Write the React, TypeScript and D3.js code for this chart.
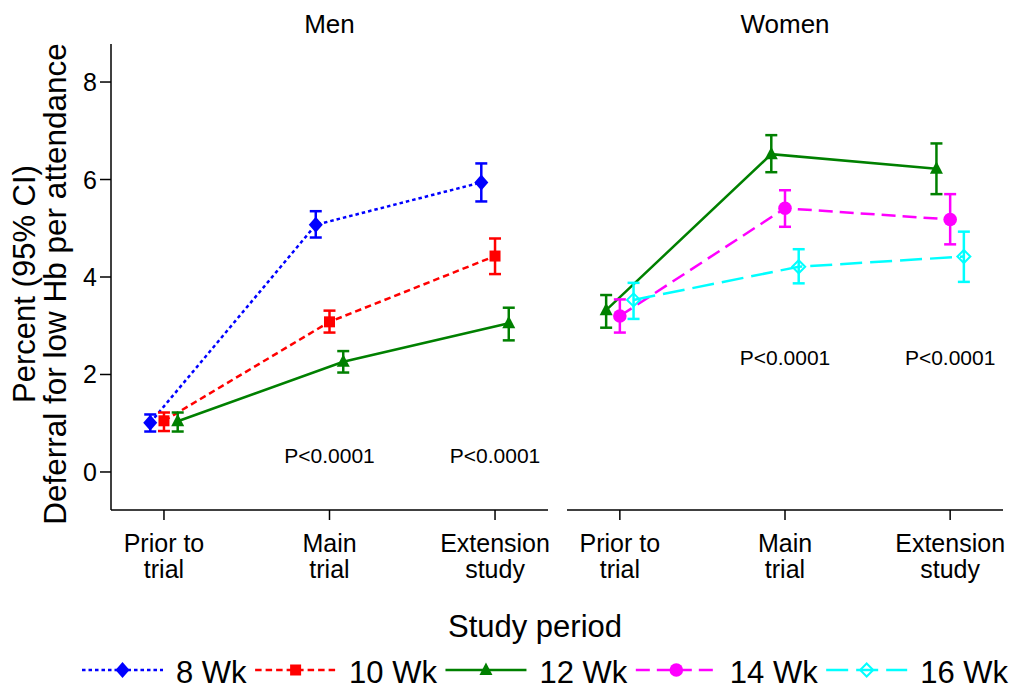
import React from "react";
import * as d3 from "d3";

const W = 1016;
const H = 690;
const FONT = '"Liberation Sans", Arial, Helvetica, sans-serif';

// ---- data ----
const periods = ["Prior to trial", "Main trial", "Extension study"];
const periodLines = [["Prior to", "trial"], ["Main", "trial"], ["Extension", "study"]];
const yTicks = [0, 2, 4, 6, 8];
const panelTitles = ["Men", "Women"];

const men8 = [1.01, 5.07, 5.94];
const men8Lo = [0.83, 4.81, 5.55];
const men8Hi = [1.18, 5.35, 6.33];

const men10 = [1.05, 3.08, 4.43];
const men10Lo = [0.84, 2.86, 4.06];
const men10Hi = [1.22, 3.31, 4.79];

const men12 = [1.04, 2.26, 3.05];
const men12Lo = [0.83, 2.04, 2.7];
const men12Hi = [1.22, 2.48, 3.37];

const women12 = [3.32, 6.52, 6.22];
const women12Lo = [2.96, 6.15, 5.7];
const women12Hi = [3.63, 6.91, 6.74];

const women14 = [3.2, 5.41, 5.18];
const women14Lo = [2.86, 5.03, 4.67];
const women14Hi = [3.54, 5.78, 5.7];

const women16 = [3.53, 4.21, 4.42];
const women16Lo = [3.14, 3.87, 3.9];
const women16Hi = [3.88, 4.57, 4.93];

const pText = "P<0.0001";
const pPeriods = [1, 2];
const pLevelMen = 0.33;
const pLevelWomen = 2.35;

const legendNames = ["8 Wk", "10 Wk", "12 Wk", "14 Wk", "16 Wk"];

// ---- styles ----
type Style = { color: string; dash: string; shape: string };
const styles: Record<string, Style> = {
  "8 Wk": { color: "#0000ff", dash: "3.5,3", shape: "diamond" },
  "10 Wk": { color: "#ff0000", dash: "6.5,4", shape: "square" },
  "12 Wk": { color: "#008000", dash: "", shape: "triangle" },
  "14 Wk": { color: "#ff00ff", dash: "14,7", shape: "circle" },
  "16 Wk": { color: "#00ffff", dash: "22,8", shape: "hdiamond" },
};

type Series = { name: string; v: number[]; lo: number[]; hi: number[]; off: number };
const panels: { title: string; series: Series[]; pLevel: number }[] = [
  {
    title: panelTitles[0],
    pLevel: pLevelMen,
    series: [
      { name: "8 Wk", v: men8, lo: men8Lo, hi: men8Hi, off: -0.083 },
      { name: "10 Wk", v: men10, lo: men10Lo, hi: men10Hi, off: 0 },
      { name: "12 Wk", v: men12, lo: men12Lo, hi: men12Hi, off: 0.083 },
    ],
  },
  {
    title: panelTitles[1],
    pLevel: pLevelWomen,
    series: [
      { name: "12 Wk", v: women12, lo: women12Lo, hi: women12Hi, off: -0.083 },
      { name: "14 Wk", v: women14, lo: women14Lo, hi: women14Hi, off: 0 },
      { name: "16 Wk", v: women16, lo: women16Lo, hi: women16Hi, off: 0.083 },
    ],
  },
];

function Marker({ shape, x, y, color, k = 1 }: { shape: string; x: number; y: number; color: string; k?: number }) {
  if (shape === "diamond") {
    const a = 7 * k, b = 8 * k;
    return <polygon points={`${x},${y - b} ${x + a},${y} ${x},${y + b} ${x - a},${y}`} fill={color} />;
  }
  if (shape === "square") {
    const s = 5.5 * k;
    return <rect x={x - s} y={y - s} width={2 * s} height={2 * s} fill={color} />;
  }
  if (shape === "triangle") {
    return (
      <polygon
        points={`${x},${y - 7.5 * k} ${x + 6.5 * k},${y + 5 * k} ${x - 6.5 * k},${y + 5 * k}`}
        fill={color}
      />
    );
  }
  if (shape === "circle") {
    return <circle cx={x} cy={y} r={6.8 * k} fill={color} />;
  }
  const a = 6.5 * k;
  return (
    <polygon
      points={`${x},${y - a} ${x + a},${y} ${x},${y + a} ${x - a},${y}`}
      fill="none"
      stroke={color}
      strokeWidth={2}
    />
  );
}

function measure(text: string, font: string): number {
  if (typeof document === "undefined") return text.length * 16;
  const c = document.createElement("canvas").getContext("2d");
  if (!c) return text.length * 16;
  c.font = font;
  return c.measureText(text).width;
}

export default function App() {
  const y = d3.scaleLinear().domain([-0.78, 8.78]).range([510, 44]);
  const xRanges: [number, number][] = [
    [111, 548],
    [567, 1003],
  ];
  const xScales = xRanges.map((r) => d3.scaleLinear().domain([-0.32, 2.32]).range(r));

  const legendSize = 31;
  const legendFont = `${legendSize}px ${FONT}`;
  let lx = 82;
  const legendItems = legendNames.map((n) => {
    const tw = measure(n, legendFont);
    const item = { n, x0: lx, x1: lx + 81, tx: lx + 94 };
    lx = item.tx + tw + 8.5;
    return item;
  });

  return (
    <svg
      width={W}
      height={H}
      style={{ position: "absolute", left: 0, top: 0, background: "#fff" }}
      fontFamily={FONT}
    >
      <rect x={0} y={0} width={W} height={H} fill="#fff" />
      {/* Y axis (left panel only) */}
      <line x1={111} x2={111} y1={y(8.78)} y2={y(-0.78)} stroke="#000" strokeWidth={1.5} />
      {yTicks.map((t) => (
        <g key={t}>
          <line x1={100} x2={111} y1={y(t)} y2={y(t)} stroke="#000" strokeWidth={1.5} />
          <text x={97} y={y(t)} dy="0.36em" textAnchor="end" fontSize={25}>
            {t}
          </text>
        </g>
      ))}
      {/* Y label */}
      <g transform={`translate(0,284) rotate(-90)`}>
        <text x={0} y={35} textAnchor="middle" fontSize={31}>
          Percent (95% CI)
        </text>
        <text x={0} y={65.5} textAnchor="middle" fontSize={31.5}>
          Deferral for low Hb per attendance
        </text>
      </g>

      {panels.map((p, pi) => {
        const x = xScales[pi];
        const [r0, r1] = xRanges[pi];
        return (
          <g key={pi}>
            <text x={x(1)} y={33} textAnchor="middle" fontSize={26}>
              {p.title}
            </text>
            <line x1={r0} x2={r1} y1={510} y2={510} stroke="#000" strokeWidth={1.5} />
            {periods.map((per, i) => (
              <g key={per}>
                <line x1={x(i)} x2={x(i)} y1={510} y2={520} stroke="#000" strokeWidth={1.5} />
                {periodLines[i].map((ln, j) => (
                  <text key={j} x={x(i)} y={552 + j * 26} textAnchor="middle" fontSize={25}>
                    {ln}
                  </text>
                ))}
              </g>
            ))}
            {p.series.map((s) => {
              const st = styles[s.name];
              const line = d3
                .line<number>()
                .x((_, i) => x(i + s.off))
                .y((d) => y(d));
              return (
                <g key={s.name}>
                  <path
                    d={line(s.v) || ""}
                    fill="none"
                    stroke={st.color}
                    strokeWidth={2.5}
                    strokeDasharray={st.dash || undefined}
                  />
                  {s.v.map((v, i) => {
                    const cx = x(i + s.off);
                    return (
                      <g key={i}>
                        <line x1={cx} x2={cx} y1={y(s.lo[i])} y2={y(s.hi[i])} stroke={st.color} strokeWidth={2.5} />
                        <line x1={cx - 6} x2={cx + 6} y1={y(s.lo[i])} y2={y(s.lo[i])} stroke={st.color} strokeWidth={2.5} />
                        <line x1={cx - 6} x2={cx + 6} y1={y(s.hi[i])} y2={y(s.hi[i])} stroke={st.color} strokeWidth={2.5} />
                        <Marker shape={st.shape} x={cx} y={y(v)} color={st.color} />
                      </g>
                    );
                  })}
                </g>
              );
            })}
            {pPeriods.map((pp) => (
              <text key={pp} x={x(pp)} y={y(p.pLevel)} dy="0.36em" textAnchor="middle" fontSize={21}>
                {pText}
              </text>
            ))}
          </g>
        );
      })}

      <text x={535} y={637} textAnchor="middle" fontSize={31}>
        Study period
      </text>

      {legendItems.map((it) => {
        const st = styles[it.n];
        const cy = 670;
        return (
          <g key={it.n}>
            <line
              x1={it.x0}
              x2={it.x1}
              y1={cy}
              y2={cy}
              stroke={st.color}
              strokeWidth={2.5}
              strokeDasharray={st.dash || undefined}
            />
            <Marker shape={st.shape} x={(it.x0 + it.x1) / 2} y={cy} color={st.color} />
            <text x={it.tx} y={683} fontSize={legendSize}>
              {it.n}
            </text>
          </g>
        );
      })}
    </svg>
  );
}
